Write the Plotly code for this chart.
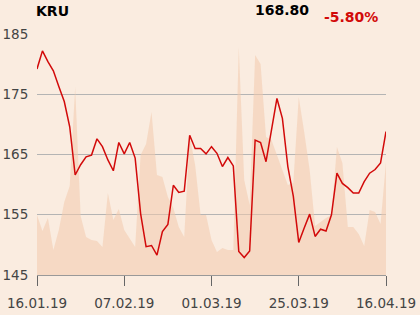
import plotly.graph_objects as go

# trading-day index (16.01.19 .. 16.04.19)
day_index = list(range(65))
tick_days = [0, 16, 32, 48, 64]
tick_labels = ["16.01.19", "07.02.19", "01.03.19", "25.03.19", "16.04.19"]

price = [179.2, 182.2, 180.4, 178.9, 176.3, 173.8, 169.6, 161.6, 163.3, 164.6,
         164.9, 167.6, 166.3, 164.1, 162.3, 167.0, 165.1, 167.0, 164.4, 155.2,
         149.7, 149.9, 148.3, 152.2, 153.4, 159.9, 158.7, 158.9, 168.2, 166.0,
         166.0, 165.1, 166.3, 165.2, 163.0, 164.5, 163.1, 148.9, 147.9, 149.0,
         167.4, 167.0, 163.8, 169.1, 174.3, 171.0, 163.0, 158.1, 150.4, 152.8,
         155.1, 151.4, 152.6, 152.3, 155.0, 161.9, 160.2, 159.5, 158.6, 158.6,
         160.5, 161.9, 162.5, 163.6, 168.8]

volume = [60, 44, 57, 25, 45, 73, 89, 188, 59, 38,
          35, 34, 28, 82, 55, 66, 45, 37, 28, 120,
          131, 163, 100, 98, 78, 67, 48, 38, 139, 110,
          60, 60, 35, 23, 27, 25, 25, 228, 95, 70,
          220, 211, 138, 135, 120, 105, 90, 92, 178, 143,
          105, 49, 53, 57, 60, 128, 112, 48, 48, 41,
          29, 65, 63, 51, 113]

price_ticks = [145, 155, 165, 175, 185]
ticker = "KRU"
last_price = "168.80"
change = "-5.80%"

BG = "#FAECE0"

fig = go.Figure()
fig.add_trace(go.Scatter(
    x=day_index, y=volume, yaxis="y", mode="lines",
    line=dict(width=0), fill="tozeroy",
    fillcolor="rgba(243,203,173,0.55)", hoverinfo="skip", showlegend=False))
fig.add_trace(go.Scatter(
    x=day_index, y=price, yaxis="y2", mode="lines",
    line=dict(color="#D20A0A", width=1.5), showlegend=False))

fig.update_layout(
    width=420, height=315,
    margin=dict(l=37, r=34, t=34, b=40),
    paper_bgcolor=BG, plot_bgcolor=BG,
    font=dict(family="DejaVu Sans", size=13, color="#444444"),
    xaxis=dict(range=[0, 64], tickvals=tick_days, ticktext=tick_labels,
               showgrid=False, zeroline=False, showline=True, automargin=False,
               linecolor="#999999", linewidth=1,
               ticks="outside", ticklen=10, tickcolor="#666666",
               ticklabelstandoff=6,
               tickfont=dict(size=13.5, color="#444444")),
    yaxis=dict(range=[0, 241], visible=False, fixedrange=True, automargin=False),
    yaxis2=dict(range=[145, 185], overlaying="y", side="left",
                tickvals=price_ticks, showgrid=True, automargin=False,
                gridcolor="#B4B4B4", gridwidth=1, zeroline=False,
                showline=False, ticks="outside", ticklen=5, tickcolor=BG,
                tickfont=dict(size=13.5, color="#444444")),
    annotations=[
        dict(text="<b>%s</b>" % ticker, xref="paper", yref="paper",
             x=-0.009, y=1.095, xanchor="left", yanchor="middle", showarrow=False,
             font=dict(size=14, color="#000000")),
        dict(text="<b>%s</b>" % last_price, xref="paper", yref="paper",
             x=0.786, y=1.1, xanchor="right", yanchor="middle", showarrow=False,
             font=dict(size=14, color="#000000")),
        dict(text="<b>%s</b>" % change, xref="paper", yref="paper",
             x=0.983, y=1.07, xanchor="right", yanchor="middle", showarrow=False,
             font=dict(size=14, color="#D20A0A")),
    ],
)

fig.write_html("out.html")
